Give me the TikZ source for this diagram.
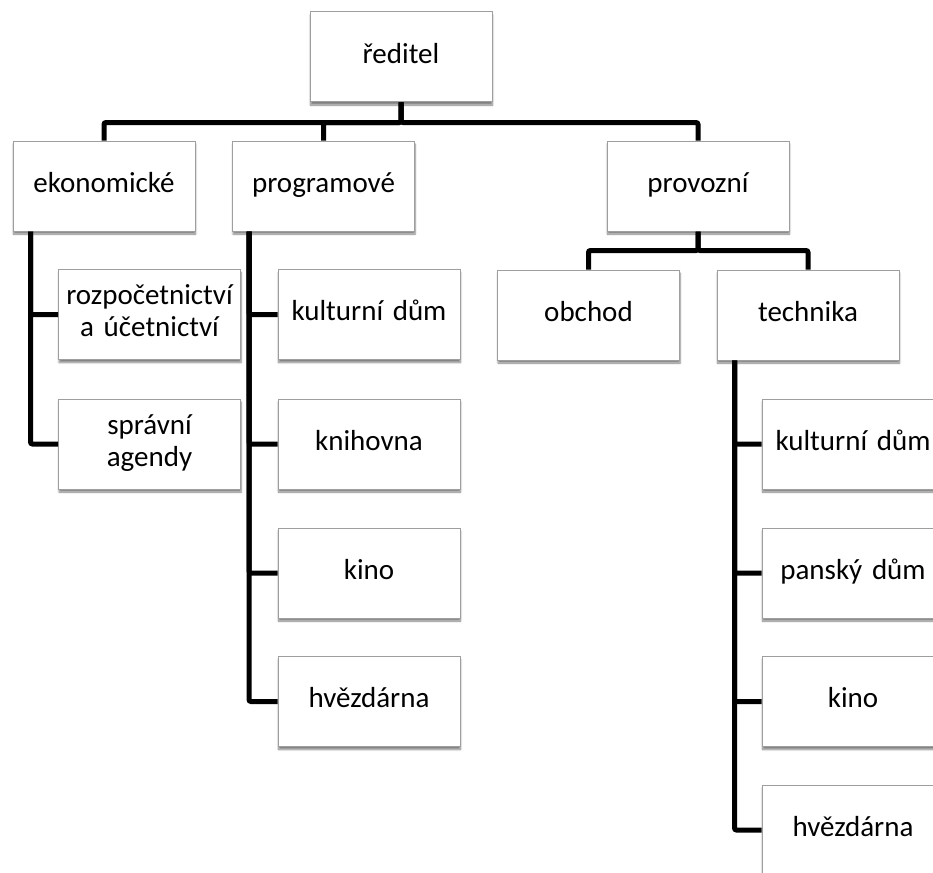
\documentclass[tikz,border=0pt]{standalone}
\usepackage{fontspec}
\setmainfont{Carlito}
\usetikzlibrary{shadows.blur}
\tikzset{
    orgnode/.style = {
        align=center,
        inner sep=0pt,
        text centered,
        font=\fontsize{29}{32}\selectfont,
        rectangle,
        draw=black!38,
        line width=1pt,
        fill=white,
        minimum width=182pt,
        minimum height=90pt,
        text width=178pt,
        execute at begin node=\strut,
        execute at end node=\strut,
        blur shadow={shadow xshift=0.5pt, shadow yshift=-3pt,
                     shadow blur steps=6, shadow opacity=50}
    },
    orgline/.style = {
        draw=black,
        line width=5pt,
        rounded corners=2pt
    }
}

\begin{document}
\begin{tikzpicture}[x=1pt, y=-1pt]
    \useasboundingbox (0,0) rectangle (933,872);
    \clip (0,0) rectangle (933,872);

    % top levels
    \node [orgnode] (reditel) at (401,57) {ředitel};
    \node [orgnode] (ekon)    at (104,186) {ekonomické};
    \node [orgnode] (prog)    at (323.5,186) {programové};
    \node [orgnode] (provoz)  at (698,186) {provozní};
    \node [orgnode] (obchod)  at (588.5,315) {obchod};
    \node [orgnode] (tech)    at (808,315) {technika};

    % ekonomicke
    \node [orgnode] (rozp)    at (149.5,314.5) {rozpočetnictví\\a účetnictví};
    \node [orgnode] (sprav)   at (149.5,444) {správní\\agendy};

    % programove
    \node [orgnode] (pkult)   at (369,314.5) {kulturní dům};
    \node [orgnode] (pknih)   at (369,444) {knihovna};
    \node [orgnode] (pkino)   at (369,573) {kino};
    \node [orgnode] (phvezd)  at (369,701.5) {hvězdárna};

    % technika
    \node [orgnode] (tkult)   at (853,444) {kulturní dům};
    \node [orgnode] (tpansky) at (853,573) {panský dům};
    \node [orgnode] (tkino)   at (853,701.5) {kino};
    \node [orgnode] (thvezd)  at (853,830) {hvězdárna};

    % connectors
    \draw [orgline] (reditel.south) -- ++(0,20) -| (ekon.north);
    \draw [orgline] (reditel.south) -- ++(0,20) -| (prog.north);
    \draw [orgline] (reditel.south) -- ++(0,20) -| (provoz.north);
    \draw [orgline] (provoz.south) -- ++(0,19) -| (obchod.north);
    \draw [orgline] (provoz.south) -- ++(0,19) -| (tech.north);

    \draw [orgline] ([xshift=18pt]ekon.south west) |- (rozp.west);
    \draw [orgline] ([xshift=18pt]ekon.south west) |- (sprav.west);

    \draw [orgline] ([xshift=17pt]prog.south west) |- (pkult.west);
    \draw [orgline] ([xshift=17pt]prog.south west) |- (pknih.west);
    \draw [orgline] ([xshift=17pt]prog.south west) |- (pkino.west);
    \draw [orgline] ([xshift=17pt]prog.south west) |- (phvezd.west);

    \draw [orgline] ([xshift=18pt]tech.south west) |- (tkult.west);
    \draw [orgline] ([xshift=18pt]tech.south west) |- (tpansky.west);
    \draw [orgline] ([xshift=18pt]tech.south west) |- (tkino.west);
    \draw [orgline] ([xshift=18pt]tech.south west) |- (thvezd.west);
\end{tikzpicture}
\end{document}
